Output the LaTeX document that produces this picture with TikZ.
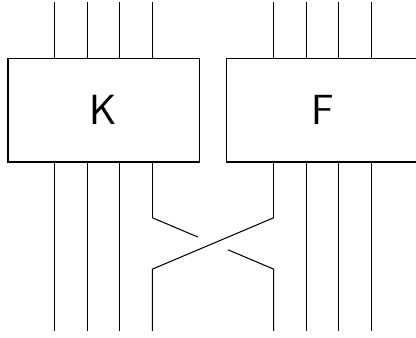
\documentclass[tikz,border=0pt]{standalone}
\usetikzlibrary{positioning}

\tikzset{
  block/.style={draw, line width=0.8pt, minimum width=3.83cm, minimum height=2.07cm,
    font=\sffamily\fontsize{24}{24}\selectfont},
  wire/.style={line width=0.6pt},
}

\begin{document}
\begin{tikzpicture}
  \useasboundingbox (0,0) rectangle (8.32,6.76);

  % Nodes
  \node[block] (K) at (2.074,4.553) {K};
  \node[block, minimum width=4.4cm, anchor=west] (F) at (4.517,4.553) {F\kern5.7mm}; % runs off the page

  % Wires above
  \draw[wire] ([xshift=-9.75mm]K.north) -- ++(0,1.12) coordinate (k1t);
  \draw[wire] ([xshift=-3.25mm]K.north) -- ++(0,1.12) coordinate (k2t);
  \draw[wire] ([xshift=3.25mm]K.north) -- ++(0,1.12) coordinate (k3t);
  \draw[wire] ([xshift=9.75mm]K.north) -- ++(0,1.12) coordinate (k4t);
  \draw[wire] ([xshift=9.55mm]F.north west) -- ++(0,1.12) coordinate (f1t);
  \draw[wire] ([xshift=16.05mm]F.north west) -- ++(0,1.12) coordinate (f2t);
  \draw[wire] ([xshift=22.55mm]F.north west) -- ++(0,1.12) coordinate (f3t);
  \draw[wire] ([xshift=29.05mm]F.north west) -- ++(0,1.12) coordinate (f4t);

  % Wires below
  \draw[wire] ([xshift=-9.75mm]K.south) -- ++(0,-3.36) coordinate (k1b);
  \draw[wire] ([xshift=-3.25mm]K.south) -- ++(0,-3.36) coordinate (k2b);
  \draw[wire] ([xshift=3.25mm]K.south) -- ++(0,-3.36) coordinate (k3b);
  \draw[wire] ([xshift=16.05mm]F.south west) -- ++(0,-3.36) coordinate (f2b);
  \draw[wire] ([xshift=22.55mm]F.south west) -- ++(0,-3.36) coordinate (f3b);
  \draw[wire] ([xshift=29.05mm]F.south west) -- ++(0,-3.36) coordinate (f4b);

  % Crossing
  \draw[wire] ([xshift=9.75mm]K.south) -- ++(0,-1.1) coordinate (k4a);
  \draw[wire] ([xshift=9.55mm]F.south west) -- ++(0,-1.1) coordinate (f1a);
  \path (k4a) ++(0,-1.026) coordinate (k4c);
  \path (f1a) ++(0,-1.026) coordinate (f1c);
  \draw[wire] (f1a) -- (k4c) -- ++(0,-1.234) coordinate (k4b);
  \path (k4a) -- (f1c) coordinate[pos=0.375] (g1) coordinate[pos=0.625] (g2);
  \draw[wire] (k4a) -- (g1);
  \draw[wire] (g2) -- (f1c) -- ++(0,-1.234) coordinate (f1b);

\end{tikzpicture}
\end{document}
